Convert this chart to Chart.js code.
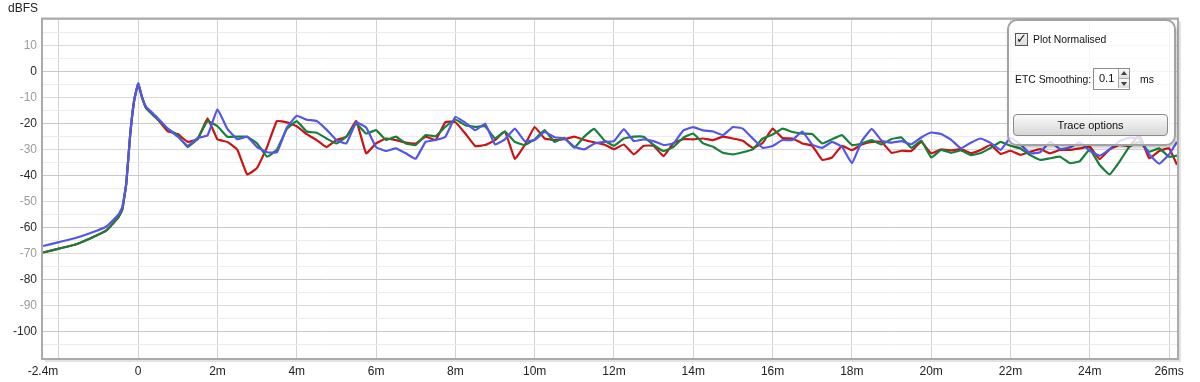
<!DOCTYPE html>
<html><head><meta charset="utf-8">
<script src="https://cdn.jsdelivr.net/npm/chart.js@4.4.0/dist/chart.umd.min.js"></script>
<style>
html,body{margin:0;padding:0;background:#fff;}
#wrap{position:relative;width:1200px;height:382px;font-family:"Liberation Sans",Arial,sans-serif;overflow:hidden;}
#c{position:absolute;left:0;top:0;}
#unit{position:absolute;left:8px;top:1px;font-size:12px;color:#222;}
#panel{position:absolute;left:1007px;top:19px;width:165px;height:123px;border:2px solid #a2a2a2;border-radius:10px;background:rgba(255,255,255,0.8);box-shadow:1px 2px 3px rgba(0,0,0,0.22);font-size:10.4px;color:#111;}
#panel .t{position:absolute;line-height:13px;white-space:nowrap;}
#chk{position:absolute;left:6px;top:12px;width:11px;height:11px;border:1px solid #555;background:linear-gradient(#f4f4f4,#dadada);}
#chk span{position:absolute;left:0px;top:-3px;font-size:13px;font-weight:bold;color:#111;font-family:"DejaVu Sans",sans-serif;}
#spin{position:absolute;left:84px;top:47px;width:35px;height:20px;border:1px solid #8c8c8c;background:#fff;}
#spin .v{position:absolute;left:5px;top:3px;font-size:11px;}
#spin .up,#spin .dn{position:absolute;left:24px;width:10px;height:9px;background:linear-gradient(#fafafa,#dedede);border-left:1px solid #aaa;}
#spin .up{top:0;border-bottom:1px solid #aaa;}
#spin .dn{top:10px;}
#spin .up:after{content:"";position:absolute;left:2px;top:2px;border-left:3px solid transparent;border-right:3px solid transparent;border-bottom:4px solid #444;}
#spin .dn:after{content:"";position:absolute;left:2px;top:3px;border-left:3px solid transparent;border-right:3px solid transparent;border-top:4px solid #444;}
#btn{position:absolute;left:4px;top:93px;width:153px;height:20px;border:1px solid #8a8a8a;border-radius:4px;background:linear-gradient(#fbfbfb,#e9e9e9 50%,#d6d6d6);text-align:center;line-height:20px;font-size:11px;color:#111;}
</style>
</head><body>
<div id="wrap">
<canvas id="c" width="1200" height="382"></canvas>
<div id="unit">dBFS</div>
<div id="panel">
  <div id="chk"><span>✓</span></div>
  <div class="t" style="left:24px;top:12px;">Plot Normalised</div>
  <div class="t" style="left:6px;top:52px;">ETC Smoothing:</div>
  <div id="spin"><div class="v">0.1</div><div class="up"></div><div class="dn"></div></div>
  <div class="t" style="left:131px;top:52px;">ms</div>
  <div id="btn">Trace options</div>
</div>
</div>
<script>
// time axis (ms)
const times = [-2.4,-2.0,-1.6,-1.2,-0.8,-0.5,-0.4,-0.3,-0.2,-0.1,0,0.1,0.2,0.3,0.4,0.5,
0.75,1.0,1.25,1.5,1.75,2.0,2.25,2.5,2.75,3.0,3.25,3.5,3.75,4.0,4.25,4.5,4.75,5.0,5.25,5.5,5.75,6.0,
6.25,6.5,6.75,7.0,7.25,7.5,7.75,8.0,8.25,8.5,8.75,9.0,9.25,9.5,9.75,10.0,10.25,10.5,10.75,11.0,
11.25,11.5,11.75,12.0,12.25,12.5,12.75,13.0,13.25,13.5,13.75,14.0,14.25,14.5,14.75,15.0,15.25,15.5,
15.75,16.0,16.25,16.5,16.75,17.0,17.25,17.5,17.75,18.0,18.25,18.5,18.75,19.0,19.25,19.5,19.75,20.0,
20.25,20.5,20.75,21.0,21.25,21.5,21.75,22.0,22.25,22.5,22.75,23.0,23.25,23.5,23.75,24.0,24.25,24.5,
24.75,25.0,25.25,25.5,25.75,26.0,26.2];

const redTrace = [-69.5,-68,-66.5,-64,-61,-56,-53,-43,-24,-11,-4.7,-10,-14,-15.5,-17,-18.5,
-23,-24,-27,-26,-18,-26,-27,-30,-39.5,-37,-29,-19,-19.5,-21,-24,-26.3,-29,-26.3,-25,-19,-31.4,-27.6,
-25.7,-26.3,-27.3,-27.6,-25,-26.3,-19.4,-19.4,-23.8,-28.6,-28.2,-26.3,-23,-33.5,-28.2,-21.3,-25.7,-26.3,-26,-25,
-26.3,-27.2,-28,-29.8,-28,-31.8,-28.5,-28.5,-32.5,-27.5,-26,-26,-25.7,-26.3,-25,-25.7,-26.6,-29.3,
-27.4,-21.9,-25.5,-25.7,-27.6,-28.5,-33.9,-33,-28.5,-30.2,-28,-27,-27,-31.2,-30.4,-30.5,-27,-31.4,
-29.9,-30.3,-29.8,-31.3,-30.1,-28.2,-31.6,-30.4,-32,-30.8,-29.8,-31.4,-30.1,-30.1,-29.5,-28.9,-33.6,-29.9,
-28.2,-28.6,-24.4,-33.3,-30.5,-29.5,-35.8];

const greenTrace = [-69.5,-68,-66.5,-64,-61,-56,-53,-43,-24,-11,-4.7,-10,-14,-15.5,-17,-18.5,
-22,-24.5,-29,-25.7,-19,-21,-25,-25,-25,-27.6,-32.7,-30,-22,-19,-23,-23.5,-25.7,-27.6,-25,-20,-23.8,-22.5,
-26.3,-25,-27.6,-28.2,-24.4,-24.8,-21.2,-18.4,-20.6,-21.2,-21,-25.7,-23,-27,-28.2,-26,-22.5,-27,-25.4,-29.2,
-25,-22,-26.3,-28.5,-25.7,-25,-25,-28.2,-30.5,-28.9,-25.4,-23.8,-27.6,-28.9,-31.2,-31.8,-31,-29.9,
-25.7,-24.2,-21.9,-23.2,-23.8,-24,-27.6,-26,-24.4,-28.2,-27.6,-26.3,-28,-25.9,-25.3,-29.3,-26.5,-33,
-30.1,-31.2,-30.3,-32.1,-31.3,-29.3,-27,-28.5,-29.5,-32.1,-33.9,-33.3,-32.7,-35.2,-34.4,-29.9,-35.9,-39.5,
-34.6,-28.9,-27,-30.8,-29.5,-32.7,-32.3];

const blueTrace = [-67,-65.5,-64,-62,-59.5,-55,-52,-43,-24,-11,-4.5,-10,-13.5,-15,-16.5,-18,
-22,-25,-28.5,-25.5,-24.5,-14.5,-22,-26,-25,-29,-31,-31,-21.5,-17,-18.5,-19,-22.3,-26.3,-27.6,-19.5,-21.5,-29,
-30.5,-29.5,-31.4,-33.5,-27,-26.3,-25,-17.4,-19.6,-22.5,-20,-28,-26,-21.9,-26.7,-26.3,-23.2,-25.2,-25.7,-28.9,
-29.9,-27.7,-27,-26.7,-22.1,-26.7,-26,-26.7,-28.2,-27.6,-22.6,-21.3,-22.6,-23,-24.4,-21.3,-21.9,-25.7,
-29.3,-28.6,-26.3,-26.3,-23,-28,-29.3,-27,-28.9,-35.2,-26.7,-22,-26.5,-27.3,-26.7,-27.9,-25.3,-23.4,
-24,-26.1,-29.5,-27.3,-25.7,-27.4,-30.1,-25.4,-28,-31.4,-31,-27,-29.8,-29.1,-27.2,-30.4,-32.3,-29.9,
-26.7,-25.4,-25.7,-31.8,-35.4,-31.8,-27];

const xTicks = [-2.4,-2,0,2,4,6,8,10,12,14,16,18,20,22,24,26];
const xTickLabels = ['-2.4m','','0','2m','4m','6m','8m','10m','12m','14m','16m','18m','20m','22m','24m','26ms'];

const FONT = {family:'"Liberation Sans", Arial, sans-serif', size:12};

const frame = {
  id:'frame',
  afterDatasetsDraw(chart){
    const {ctx, chartArea:a} = chart;
    ctx.save();
    ctx.strokeStyle = '#e2e2e2'; ctx.lineWidth = 2;
    ctx.beginPath();
    ctx.moveTo(a.right+3, a.top+2); ctx.lineTo(a.right+3, a.bottom+3); ctx.lineTo(a.left+2, a.bottom+3);
    ctx.stroke();
    ctx.strokeStyle = '#ababab'; ctx.lineWidth = 2;
    ctx.strokeRect(a.left-1, a.top-1, a.right-a.left+2, a.bottom-a.top+2);
    ctx.restore();
  }
};

function series(vals){ return times.map((t,i)=>({x:t, y:vals[i]})); }

new Chart(document.getElementById('c'), {
  type:'line',
  data:{ datasets:[
    {label:'blue', data:series(blueTrace), borderColor:'#5656e6', borderWidth:2.2, pointRadius:0, tension:0.1, order:0},
    {label:'green', data:series(greenTrace), borderColor:'#17803c', borderWidth:2.2, pointRadius:0, tension:0.1, order:1},
    {label:'red', data:series(redTrace), borderColor:'#c81414', borderWidth:2.2, pointRadius:0, tension:0.1, order:2}
  ]},
  options:{
    responsive:false, animation:false, devicePixelRatio:1,
    layout:{padding:{left:0, top:19.5, right:23, bottom:0}},
    plugins:{legend:{display:false}, tooltip:{enabled:false}},
    scales:{
      x:{ type:'linear', min:-2.4, max:26.2,
        afterBuildTicks(s){ s.ticks = xTicks.map(v=>({value:v})); },
        afterFit(s){ s.height = 24; },
        ticks:{ autoSkip:false, maxRotation:0, minRotation:0, padding:6, color:'#222', font:FONT,
          callback:(v,i)=> xTickLabels[i] },
        grid:{ drawTicks:false, color:(c)=> (c.tick && c.tick.value===-2.4) ? 'rgba(0,0,0,0)' : '#d3d3d3' },
        border:{display:false}
      },
      y:{ min:-110, max:20,
        afterFit(s){ s.width = 43; },
        ticks:{ stepSize:5, autoSkip:false, padding:6, font:FONT,
          callback:(v)=> (v%10===0 && v<=10 && v>=-100) ? String(v) : '',
          color:(c)=> (c.tick.value%20===0) ? '#2a2a2a' : '#9c9c9c' },
        grid:{ drawTicks:false, color:(c)=>{ const v=c.tick.value; if(v%20===0) return '#c8c8c8'; if(v%10===0) return '#d9d9d9'; return '#ececec'; } },
        border:{display:false}
      }
    }
  },
  plugins:[frame]
});
</script>
</body></html>
